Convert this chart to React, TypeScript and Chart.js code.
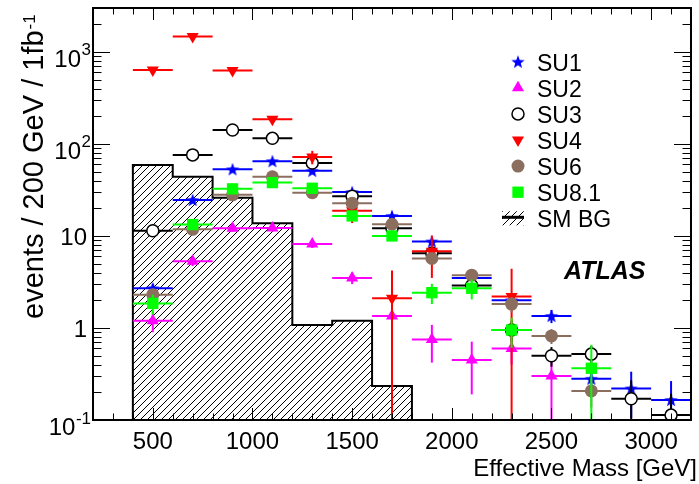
import React, { useEffect, useRef } from 'react';
import { Chart, registerables } from 'chart.js';

Chart.register(...registerables);

// ---------------- data ----------------
const binCenters = [500, 700, 900, 1100, 1300, 1500, 1700, 1900, 2100, 2300, 2500, 2700, 2900, 3100];
const binHalfWidth = 100;

const su1Values = [2.7, 24.6, 53, 65, 51, 30, 16.5, 8.7, 3.5, 2.0, 1.35, 0.28, 0.22, 0.165];
const su1Errors = [0.3, 1.5, 2.3, 2.6, 2.3, 1.7, 1.2, 0.8, 0.5, 0.4, 0.22, 0.1, 0.115, 0.1];
const su2Values = [1.2, 5.3, 12.1, 12.2, 8.2, 3.5, 1.35, 0.75, 0.45, 0.6, 0.3, null, null, null];
const su2Errors = [0.3, 0.6, 1.0, 1.0, 0.8, 0.5, 0.35, 0.33, 0.26, 0.2, 0.2, null, null, null];
const su3Values = [11.4, 76, 142, 115, 62, 27, 12.1, 6.5, 2.9, 0.95, 0.5, 0.52, 0.17, 0.113];
const su3Errors = [1.0, 2.5, 3.5, 3.1, 2.3, 1.5, 1.0, 0.7, 0.45, 0.25, 0.12, 0.12, 0.1, 0.08];
const su4Values = [637, 1470, 627, 185, 72, 18.8, 2.1, 6.8, null, 2.2, null, null, null, null];
const su4Errors = [8, 12, 8, 10, 12, 5, 2.1, 3.3, null, 2.2, null, null, null, null];
const su6Values = [2.3, 11.8, 28, 44, 29.5, 22.7, 13.4, 5.7, 3.75, 1.82, 0.82, 0.207, null, null];
const su6Errors = [0.3, 1.0, 1.5, 2.0, 1.6, 1.4, 1.0, 0.6, 0.5, 0.35, 0.15, 0.07, null, null];
const su81Values = [1.85, 13.3, 32.5, 38, 33, 16.5, 10, 2.42, 2.7, 0.95, null, 0.365, null, null];
const su81Errors = [0.45, 1.2, 2.0, 2.0, 2.0, 1.4, 1.1, 0.6, 0.66, 0.34, null, 0.29, null, null];

const bgEdges = [400, 600, 800, 1000, 1200, 1400, 1600, 1800];
const bgValues = [59, 44, 26, 13.7, 1.08, 1.2, 0.234];

const xMin = 200;
const xMax = 3200;
const yMin = 0.1;
const yMax = 3000;
const xTickValues = [500, 1000, 1500, 2000, 2500, 3000];
const xTickLabels = ['500', '1000', '1500', '2000', '2500', '3000'];
const yTickValues = [0.1, 1, 10, 100, 1000];
const yTickLabels = ['10^-1', '1', '10', '10^2', '10^3'];
const seriesNames = ['SU1', 'SU2', 'SU3', 'SU4', 'SU6', 'SU8.1'];
const bgName = 'SM BG';
const xTitle = 'Effective Mass [GeV]';
const yTitle = 'events / 200 GeV / 1fb^-1';
const experimentLabel = 'ATLAS';

// ---------------- styles ----------------
const FONT = "'Liberation Sans', Arial, Helvetica, sans-serif";
const BROWN = '#8c6e5f';

type Marker = 'star' | 'tri' | 'trid' | 'ocircle' | 'circle' | 'square';
const seriesStyles: { color: string; marker: Marker; r: number }[] = [
  { color: '#0000ff', marker: 'star', r: 7 },
  { color: '#ff00ff', marker: 'tri', r: 7 },
  { color: '#000000', marker: 'ocircle', r: 6 },
  { color: '#ff0000', marker: 'trid', r: 7 },
  { color: BROWN, marker: 'circle', r: 6.5 },
  { color: '#00ff00', marker: 'square', r: 8 },
];

function makeStar(color: string, R: number): HTMLCanvasElement {
  const size = Math.ceil(2 * R + 2);
  const c = document.createElement('canvas');
  c.width = size;
  c.height = size;
  const g = c.getContext('2d')!;
  const cx = size / 2;
  const cy = size / 2 + R * 0.08;
  g.fillStyle = color;
  g.beginPath();
  for (let i = 0; i < 10; i++) {
    const rr = i % 2 === 0 ? R : R * 0.42;
    const a = -Math.PI / 2 + (i * Math.PI) / 5;
    const px = cx + rr * Math.cos(a);
    const py = cy + rr * Math.sin(a);
    if (i === 0) g.moveTo(px, py);
    else g.lineTo(px, py);
  }
  g.closePath();
  g.fill();
  return c;
}

function makeHatch(ctx: CanvasRenderingContext2D): CanvasPattern {
  const t = document.createElement('canvas');
  const s = 7;
  t.width = s;
  t.height = s;
  const g = t.getContext('2d')!;
  g.strokeStyle = '#000';
  g.lineWidth = 1;
  g.beginPath();
  for (const k of [-s, 0, s]) {
    g.moveTo(k, s);
    g.lineTo(k + s, 0);
  }
  g.stroke();
  return ctx.createPattern(t, 'repeat')!;
}

const errorBarPlugin = {
  id: 'errorBars',
  beforeDatasetDraw(chart: any, args: any) {
    const ds = chart.data.datasets[args.index];
    if (!ds.errors) return;
    const { ctx, chartArea: a } = chart;
    const xs = chart.scales.x;
    const ys = chart.scales.y;
    ctx.save();
    ctx.beginPath();
    ctx.rect(a.left, a.top, a.right - a.left, a.bottom - a.top);
    ctx.clip();
    ctx.strokeStyle = ds.errColor;
    ctx.lineWidth = 2;
    ds.data.forEach((p: any, i: number) => {
      const err = ds.errors[i];
      const px = xs.getPixelForValue(p.x);
      const py = ys.getPixelForValue(p.y);
      ctx.beginPath();
      ctx.moveTo(xs.getPixelForValue(p.x - binHalfWidth), py);
      ctx.lineTo(xs.getPixelForValue(p.x + binHalfWidth), py);
      ctx.stroke();
      if (err) {
        const lo = p.y - err;
        const ylo = lo > 0 ? ys.getPixelForValue(lo) : a.bottom + 5;
        const yhi = ys.getPixelForValue(p.y + err);
        ctx.beginPath();
        ctx.moveTo(px, yhi);
        ctx.lineTo(px, ylo);
        ctx.stroke();
      }
    });
    ctx.restore();
  },
};

function drawMarker(ctx: CanvasRenderingContext2D, m: Marker, color: string, r: number, x: number, y: number, star: HTMLCanvasElement) {
  ctx.save();
  ctx.fillStyle = color;
  ctx.strokeStyle = color;
  if (m === 'star') {
    ctx.drawImage(star, x - star.width / 2, y - star.height / 2);
  } else if (m === 'tri' || m === 'trid') {
    const d = m === 'tri' ? 1 : -1;
    ctx.beginPath();
    ctx.moveTo(x, y - d * r);
    ctx.lineTo(x + r * 0.866, y + d * r * 0.5);
    ctx.lineTo(x - r * 0.866, y + d * r * 0.5);
    ctx.closePath();
    ctx.fill();
  } else if (m === 'ocircle') {
    ctx.beginPath();
    ctx.arc(x, y, r, 0, Math.PI * 2);
    ctx.fillStyle = '#fff';
    ctx.fill();
    ctx.lineWidth = 1.5;
    ctx.strokeStyle = '#000';
    ctx.stroke();
  } else if (m === 'circle') {
    ctx.beginPath();
    ctx.arc(x, y, r, 0, Math.PI * 2);
    ctx.fill();
  } else {
    const h = r * Math.SQRT1_2;
    ctx.fillRect(x - h, y - h, 2 * h, 2 * h);
  }
  ctx.restore();
}

function makeDecorPlugin(star: HTMLCanvasElement, hatch: CanvasPattern) {
  return {
    id: 'decor',
    afterDraw(chart: any) {
      const { ctx, chartArea: a } = chart;
      const xs = chart.scales.x;
      const ys = chart.scales.y;
      ctx.save();
      // ticks
      ctx.strokeStyle = '#000';
      ctx.lineWidth = 1;
      ctx.beginPath();
      for (let v = xMin; v <= xMax; v += 100) {
        const px = Math.round(xs.getPixelForValue(v)) + 0.5;
        const len = v % 500 === 0 ? 12 : 6.5;
        ctx.moveTo(px, a.bottom);
        ctx.lineTo(px, a.bottom - len);
        ctx.moveTo(px, a.top);
        ctx.lineTo(px, a.top + len);
      }
      for (let e = -1; e <= 3; e++) {
        for (let m = 1; m <= 9; m++) {
          const v = m * Math.pow(10, e);
          if (v > yMax * 1.0001) continue;
          const py = Math.round(ys.getPixelForValue(v)) + 0.5;
          const len = m === 1 ? 17 : 8.5;
          ctx.moveTo(a.left, py);
          ctx.lineTo(a.left + len, py);
          ctx.moveTo(a.right, py);
          ctx.lineTo(a.right - len, py);
        }
      }
      ctx.stroke();
      // frame
      ctx.lineWidth = 2;
      ctx.strokeRect(a.left, a.top, a.right - a.left, a.bottom - a.top);

      ctx.fillStyle = '#000';
      // x tick labels
      ctx.font = `24px ${FONT}`;
      ctx.textAlign = 'center';
      ctx.textBaseline = 'alphabetic';
      xTickValues.forEach((v, i) => {
        ctx.fillText(xTickLabels[i], xs.getPixelForValue(v), 449);
      });
      // y tick labels
      yTickValues.forEach((v, i) => {
        const py = ys.getPixelForValue(v);
        const [base, sup] = yTickLabels[i].split('^');
        ctx.textAlign = 'right';
        if (sup) {
          ctx.font = `17px ${FONT}`;
          const w = ctx.measureText(sup).width;
          ctx.fillText(sup, 91, py + 3.5);
          ctx.font = `24px ${FONT}`;
          ctx.fillText(base, 91 - w - 0.5, py + 15);
        } else {
          ctx.font = `24px ${FONT}`;
          ctx.fillText(base, 87, py + 9.5);
        }
      });
      // x title
      ctx.font = `24px ${FONT}`;
      ctx.textAlign = 'right';
      ctx.fillText(xTitle, 697, 476);
      // y title
      ctx.save();
      ctx.translate(43, 319);
      ctx.rotate(-Math.PI / 2);
      ctx.textAlign = 'left';
      const [yMain, ySup] = yTitle.split('^');
      ctx.font = `29px ${FONT}`;
      ctx.fillText(yMain, 0, 0);
      const wMain = ctx.measureText(yMain).width;
      ctx.font = `17px ${FONT}`;
      ctx.fillText(ySup, wMain + 1, -8);
      ctx.restore();

      // legend
      const rowY0 = 61.7;
      const rowStep = 26.1;
      ctx.textAlign = 'left';
      ctx.font = `23px ${FONT}`;
      seriesNames.forEach((name, i) => {
        const yy = rowY0 + i * rowStep;
        const st = seriesStyles[i];
        drawMarker(ctx, st.marker, st.color, st.r, 518, yy, star);
        ctx.fillStyle = '#000';
        ctx.fillText(name, 537, yy + 9);
      });
      const yb = rowY0 + seriesNames.length * rowStep;
      ctx.save();
      ctx.fillStyle = hatch;
      ctx.fillRect(502, yb - 7, 22, 14);
      ctx.restore();
      ctx.lineWidth = 3;
      ctx.beginPath();
      ctx.moveTo(502, yb - 1);
      ctx.lineTo(524, yb - 1);
      ctx.stroke();
      ctx.fillStyle = '#000';
      ctx.fillText(bgName, 537, yb + 9);

      // experiment label
      ctx.font = `italic bold 25px ${FONT}`;
      ctx.fillText(experimentLabel, 564, 279);
      ctx.restore();
    },
  };
}

export default function App() {
  const ref = useRef<HTMLCanvasElement | null>(null);

  useEffect(() => {
    const canvas = ref.current;
    if (!canvas) return;
    const ctx = canvas.getContext('2d')!;
    const hatch = makeHatch(ctx);
    const star = makeStar('#0000ff', 7);

    const bgPoints = [
      { x: bgEdges[0], y: yMin },
      ...bgValues.map((v, i) => ({ x: bgEdges[i], y: v })),
      { x: bgEdges[bgEdges.length - 1], y: bgValues[bgValues.length - 1] },
      { x: bgEdges[bgEdges.length - 1], y: yMin },
    ];

    const allValues = [su1Values, su2Values, su3Values, su4Values, su6Values, su81Values];
    const allErrors = [su1Errors, su2Errors, su3Errors, su4Errors, su6Errors, su81Errors];

    const seriesDatasets = seriesNames.map((name, si) => {
      const vals = allValues[si];
      const errs = allErrors[si];
      const pts: { x: number; y: number }[] = [];
      const es: number[] = [];
      binCenters.forEach((c, i) => {
        const v = vals[i];
        if (v !== null && v !== undefined) {
          pts.push({ x: c, y: v });
          es.push((errs[i] as number) || 0);
        }
      });
      const st = seriesStyles[si];
      const base: any = {
        type: 'scatter',
        label: name,
        data: pts,
        errors: es,
        errColor: st.color,
        showLine: false,
        order: 6 - si,
        pointRadius: st.r,
        pointBorderWidth: 0,
        pointBackgroundColor: st.color,
        pointBorderColor: st.color,
      };
      if (st.marker === 'star') {
        base.pointStyle = star;
      } else if (st.marker === 'tri') {
        base.pointStyle = 'triangle';
      } else if (st.marker === 'trid') {
        base.pointStyle = 'triangle';
        base.pointRotation = 180;
      } else if (st.marker === 'ocircle') {
        base.pointStyle = 'circle';
        base.pointBackgroundColor = '#ffffff';
        base.pointBorderColor = '#000000';
        base.pointBorderWidth = 1.5;
      } else if (st.marker === 'circle') {
        base.pointStyle = 'circle';
      } else {
        base.pointStyle = 'rect';
      }
      return base;
    });

    const chart = new Chart(ctx, {
      type: 'scatter',
      data: {
        datasets: [
          {
            type: 'line',
            label: bgName,
            data: bgPoints,
            stepped: true,
            borderColor: '#000000',
            borderWidth: 2,
            backgroundColor: hatch,
            fill: 'start',
            pointRadius: 0,
            order: 10,
          } as any,
          ...seriesDatasets,
        ],
      },
      options: {
        responsive: false,
        animation: false,
        devicePixelRatio: 1,
        events: [],
        layout: { padding: { left: 93, top: 8, right: 4, bottom: 64 } },
        scales: {
          x: { type: 'linear', min: xMin, max: xMax, display: false },
          y: { type: 'logarithmic', min: yMin, max: yMax, display: false },
        },
        plugins: {
          legend: { display: false },
          tooltip: { enabled: false },
        },
      } as any,
      plugins: [errorBarPlugin, makeDecorPlugin(star, hatch)],
    });
    return () => chart.destroy();
  }, []);

  return (
    <div style={{ position: 'fixed', left: 0, top: 0, width: 699, height: 484, background: '#fff' }}>
      <canvas ref={ref} width={699} height={484} style={{ width: 699, height: 484, display: 'block' }} />
    </div>
  );
}
